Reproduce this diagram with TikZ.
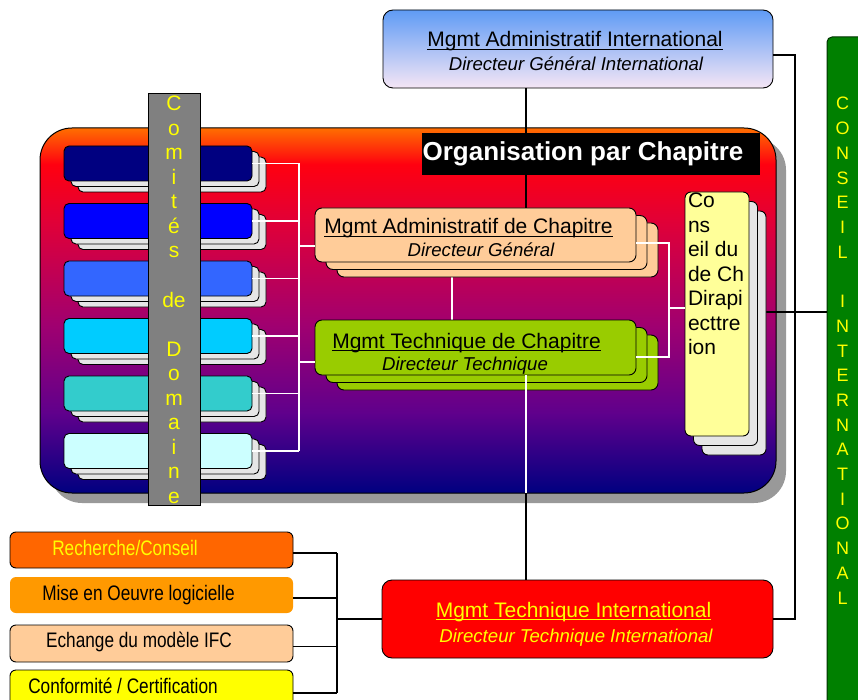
\documentclass[tikz,border=0pt]{standalone}
\usepackage{fontspec}
\setmainfont{Liberation Sans}
\newfontfamily\narrowfont[FakeStretch=0.82]{Liberation Sans}
\usetikzlibrary{shadows}
\definecolor{bgA}{RGB}{255,110,0}
\definecolor{bgB}{RGB}{255,0,16}
\definecolor{bgC}{RGB}{224,0,56}
\definecolor{bgD}{RGB}{160,0,112}
\definecolor{bgE}{RGB}{96,0,140}
\definecolor{bgF}{RGB}{0,0,128}
\definecolor{cardgray}{RGB}{230,230,230}
\definecolor{shadowgray}{RGB}{153,153,153}
\definecolor{barGray}{RGB}{128,128,128}
\definecolor{peach}{RGB}{255,204,153}
\definecolor{lime}{RGB}{153,204,0}
\definecolor{paleyellow}{RGB}{255,255,153}
\definecolor{darkgreen}{RGB}{0,128,0}
\definecolor{topblue}{RGB}{95,155,245}
\definecolor{toppink}{RGB}{245,230,245}
\definecolor{ylw}{RGB}{255,255,0}
\definecolor{cA}{RGB}{0,0,128}
\definecolor{cB}{RGB}{0,0,255}
\definecolor{cC}{RGB}{51,102,255}
\definecolor{cD}{RGB}{0,204,255}
\definecolor{cE}{RGB}{51,204,204}
\definecolor{cF}{RGB}{204,255,255}
\definecolor{oRech}{RGB}{255,102,0}
\definecolor{oMise}{RGB}{255,153,0}
\pgfdeclareverticalshading{bigbg}{100bp}{color(0bp)=(bgF); color(25bp)=(bgF); color(36bp)=(bgE); color(48bp)=(bgD); color(62bp)=(bgC); color(70bp)=(bgB); color(75bp)=(bgA); color(100bp)=(bgA)}
\newcommand\fsz[1]{\fontsize{#1}{#1}\selectfont}
\newcommand\ulx[1]{\setbox0\hbox{#1}\rlap{\rule[-3.4pt]{\wd0}{1.2pt}}\box0}
\begin{document}
\begin{tikzpicture}[x=1pt,y=-1pt,
  every node/.style={inner sep=0pt, outer sep=0pt},
  txt/.style={anchor=base, font=\fsz{21}},
  itx/.style={anchor=base, font=\fsz{18.6}\itshape},
  nar/.style={anchor=base, font=\narrowfont\fsz{21}},
  conn/.style={draw=black, line width=1.1pt},
  wconn/.style={draw=white, line width=1.4pt},
  box/.style={draw=black, line width=0.9pt, anchor=north west},
  lcard/.style={box, rounded corners=5pt, minimum width=188pt, minimum height=35pt,
    copy shadow={shadow xshift=14pt, shadow yshift=-11pt, fill=cardgray, draw=black, line width=0.9pt},
    copy shadow={shadow xshift=7pt, shadow yshift=-5.5pt, fill=cardgray, draw=black, line width=0.9pt}},
  chap/.style={box, rounded corners=7pt, minimum width=321pt, fill=#1,
    copy shadow={shadow xshift=22pt, shadow yshift=-15pt, fill=#1, draw=black, line width=0.9pt},
    copy shadow={shadow xshift=11pt, shadow yshift=-7.5pt, fill=#1, draw=black, line width=0.9pt}},
  blbox/.style={box, rounded corners=6pt, minimum width=283pt, fill=#1},
  vletter/.style={anchor=base, text=ylw, font=\fsz{#1}}
]
\useasboundingbox (0,0) rectangle (858,700);

% big chapter box
\node[box, line width=1pt, rounded corners=32pt, minimum width=736pt, minimum height=365pt,
  shade, shading=bigbg,
  drop shadow={shadow xshift=10pt, shadow yshift=-10pt, fill=shadowgray, opacity=1}] (big) at (40,128) {};
\coordinate (bigbot) at (526,493);

% top box
\node[box, rounded corners=10pt, minimum width=390pt, minimum height=78pt,
  top color=topblue, bottom color=toppink] (top) at (383,10) {};
\node[txt] (topt1) at (575,47) {\ulx{Mgmt Administratif International}};
\node[itx] (topt2) at (576,71) {Directeur Général International};

% green bar
\node[draw=black!60!darkgreen, line width=1pt, fill=darkgreen, rounded corners=5pt,
  anchor=north west, minimum width=45pt, minimum height=680pt] (gbar) at (827,37) {};
\foreach \ch [count=\i from 0] in {C,O,N,S,E,I,L,{},I,N,T,E,R,N,A,T,I,O,N,A,L}
  \node[vletter=18] (gl\i) at (842.5,110+24.7*\i) {\ch};

% left cards
\foreach \c [count=\k from 1] in {cA,cB,cC,cD,cE,cF}
  \node[lcard, fill=\c] (L\k) at (64,146+57.5*\k-57.5) {};

% Comites bar
\node[box, fill=barGray, minimum width=52pt, minimum height=412pt] (cbar) at (148,93) {};
\foreach \ch [count=\i from 0] in {C,o,m,i,t,é,s,{},de,{},D,o,m,a,i,n,e}
  \node[vletter=21] (cd\i) at (174,111+24.5*\i) {\ch};

% chapter management boxes
\coordinate (tdx) at (452,277);
\draw[wconn] (tdx) -- (tdx |- 0,320);
\node[chap=peach, minimum height=54pt] (adm) at (315,208) {};
\node[txt] (admt1) at (468.5,234) {\ulx{Mgmt Administratif de Chapitre}};
\node[itx] (admt2) at (481,257) {Directeur Général};
\node[chap=lime, minimum height=55pt] (tec) at (315,320) {};
\node[txt] (tect1) at (466.5,348) {\ulx{Mgmt Technique de Chapitre}};
\node[itx] (tect2) at (465,370) {Directeur Technique};

% Conseil du chapitre
\draw[conn] (766,312) -- (827,312);
\node[box, rounded corners=6pt, minimum width=64pt, minimum height=244pt, fill=paleyellow,
  copy shadow={shadow xshift=17pt, shadow yshift=-19pt, fill=cardgray, draw=black, line width=0.9pt},
  copy shadow={shadow xshift=8.5pt, shadow yshift=-9.5pt, fill=cardgray, draw=black, line width=0.9pt}] (cc) at (685,192) {};
\foreach \t [count=\i from 0] in {Co,ns,eil du,de Ch,Dirapi,ecttre,ion}
  \node[anchor=base west, font=\fsz{21}] (cct\i) at (688,208+24.4*\i) {\t};

% MTI box
\node[box, rounded corners=10pt, minimum width=391pt, minimum height=78pt, fill=red] (mti) at (382,580) {};
\node[txt, text=ylw] (mtit1) at (573.5,617) {\ulx{Mgmt Technique International}};
\node[itx, text=ylw] (mtit2) at (576,642) {Directeur Technique International};

% bottom left boxes
\node[blbox=oRech, minimum height=36pt] (B1) at (10,532) {};
\node[nar, text=ylw] (B1t) at (125,555) {Recherche/Conseil};
\node[blbox=oMise, draw=none, minimum height=36pt] (B2) at (10,577) {};
\node[nar] (B2t) at (138.5,600) {Mise en Oeuvre logicielle};
\node[blbox=peach, minimum height=37pt] (B3) at (10,625) {};
\node[nar] (B3t) at (139,647) {Echange du modèle IFC};
\node[blbox=ylw, minimum height=40pt] (B4) at (10,670) {};
\node[nar] (B4t) at (123,693) {Conformité / Certification};

% black connectors
\coordinate (vx) at (526,0);
\draw[conn] (vx |- top.south) -- (vx |- adm.north);
\draw[conn] (bigbot) -- (bigbot |- mti.north);
\coordinate (rx) at (795,0);
\draw[conn] ([yshift=-6pt]top.east) -- ([yshift=-6pt]top.east -| rx) -- (mti.east -| rx) -- (mti.east);
\coordinate (bx) at (337,0);
\foreach \b in {B1,B2,B3,B4}
  \draw[conn] ([yshift=-3pt]\b.east) -- ([yshift=-3pt]\b.east -| bx);
\draw[conn] ([yshift=-3pt]B1.east -| bx) -- ([yshift=-3pt]B4.east -| bx);
\draw[conn] (mti.west) -- (mti.west -| bx);

% white connectors inside the big box
\coordinate (lbus) at (299,0);
\foreach \k in {1,...,6}
  \draw[wconn] (L\k.east) -- (L\k.east -| lbus);
\draw[wconn] (L1.east -| lbus) -- (L6.east -| lbus);
\draw[wconn] ([yshift=-11pt]adm.west) -- ([yshift=-11pt]adm.west -| lbus);
\draw[wconn] ([yshift=-14.5pt]tec.west) -- ([yshift=-14.5pt]tec.west -| lbus);
\coordinate (rb) at (669,0);
\draw[wconn] ([yshift=-8pt]adm.east) -- ([yshift=-8pt]adm.east -| rb)
  -- ([yshift=-9.5pt]tec.east -| rb) -- ([yshift=-9.5pt]tec.east);
\draw[wconn] ([yshift=6pt]cc.west) -- ([yshift=6pt]cc.west -| rb);
\draw[wconn, line width=1.6pt] (bigbot |- tec.south) -- (bigbot);

% chapter label (on top of the connector)
\node[anchor=north west, fill=black, minimum width=338pt, minimum height=42pt] (orgbox) at (422,133) {};
\node[anchor=base, text=white, font=\bfseries\fsz{26}] (orgtxt) at (583,161) {Organisation par Chapitre};
\end{tikzpicture}
\end{document}
